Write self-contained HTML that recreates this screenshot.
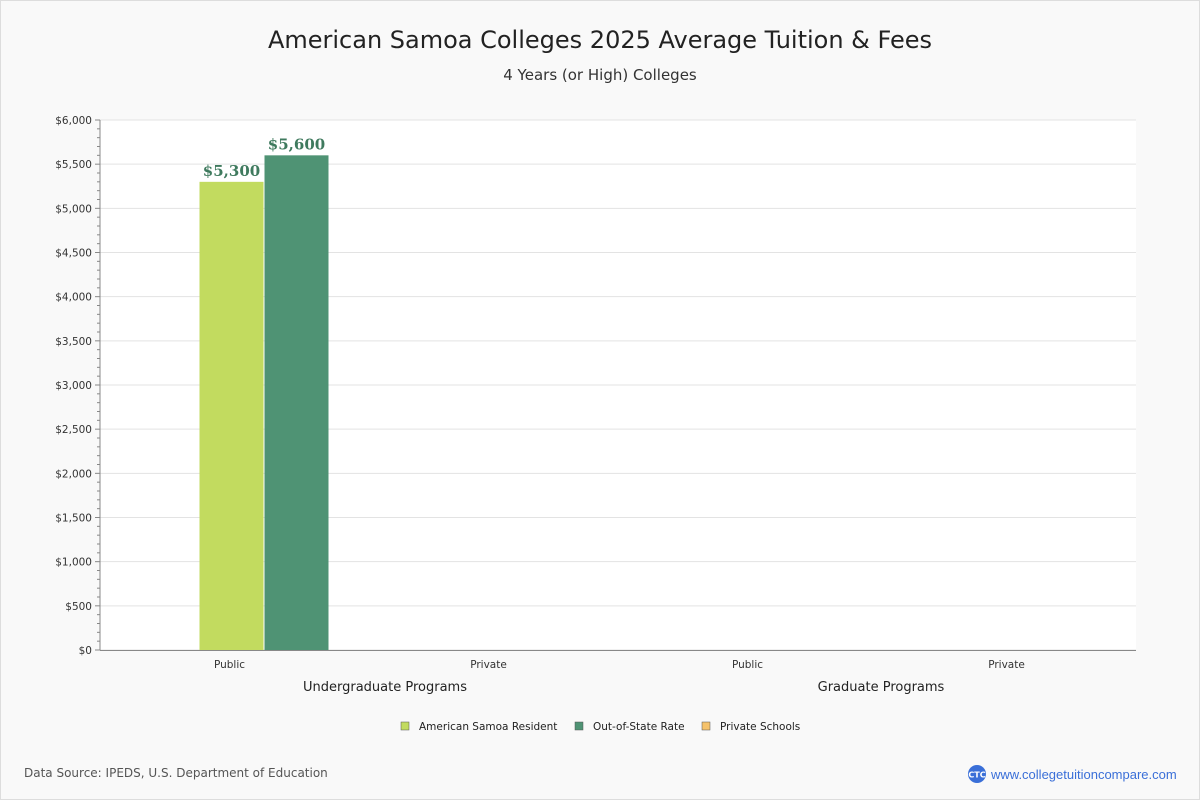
<!DOCTYPE html>
<html><head><meta charset="utf-8"><style>
body{margin:0;background:#fff;}
#wrap{position:relative;width:1198px;height:798px;border:1px solid #ddd;background:#f9f9f9;font-family:"DejaVu Sans","Liberation Sans",sans-serif;}
</style></head><body>
<div id="wrap">
<svg id="chart" width="1198" height="798" style="position:absolute;left:0;top:0">
<text x="599" y="47" text-anchor="middle" font-size="24" fill="#222">American Samoa Colleges 2025 Average Tuition &amp; Fees</text>
<text x="599" y="79" text-anchor="middle" font-size="15" fill="#333">4 Years (or High)  Colleges</text>
<rect x="99" y="119" width="1036" height="530" fill="#fff"/>
<g id="grid"></g><g id="bars"></g><g id="axis"></g>
<text x="384" y="690" text-anchor="middle" font-size="13" fill="#222">Undergraduate Programs</text>
<text x="880" y="690" text-anchor="middle" font-size="13" fill="#222">Graduate Programs</text>
<g font-size="10.5" fill="#222">
<g><rect x="400" y="721" width="8" height="8" fill="#c2db5f" stroke="#555" stroke-width="0.5"/><text x="418" y="729">American Samoa Resident</text></g>
<g><rect x="574" y="721" width="8" height="8" fill="#4f9374" stroke="#555" stroke-width="0.5"/><text x="592" y="729">Out-of-State Rate</text></g>
<g><rect x="701" y="721" width="8" height="8" fill="#f5c26b" stroke="#555" stroke-width="0.5"/><text x="719" y="729">Private Schools</text></g>
</g>
<text x="23" y="776" font-size="12" fill="#555">Data Source: IPEDS, U.S. Department of Education</text>
<g>
<circle cx="976" cy="773" r="9" fill="#3a6fd8"/><text x="976" y="776.5" text-anchor="middle" font-size="8" fill="#fff" font-weight="bold">CTC</text>
<text x="990" y="778" font-size="13" fill="#3a6fd8" font-family="Liberation Sans, sans-serif">www.collegetuitioncompare.com</text>
</g>
</svg>
</div>
<script>
const categories=["Public","Private","Public","Private"];
const residentValues=[5300,null,null,null];
const outOfStateValues=[5600,null,null,null];
const privateValues=[null,null,null,null];
const tickValues=[0,500,1000,1500,2000,2500,3000,3500,4000,4500,5000,5500,6000];
const NS="http://www.w3.org/2000/svg";
const X0=99,W=1036,Y0=649,H=530,MAX=6000;
const y=v=>Y0-v/MAX*H;
const bw=W/categories.length;
const xc=i=>X0+bw*(i+0.5);
function mk(t,a,p){const e=document.createElementNS(NS,t);for(const k in a)e.setAttribute(k,a[k]);p.appendChild(e);return e;}
const grid=document.getElementById('grid'),axis=document.getElementById('axis'),bars=document.getElementById('bars');
const fmt=v=>'$'+v.toLocaleString('en-US');
tickValues.forEach(v=>{
 const l=mk('line',{x1:X0,x2:X0+W,y1:y(v),y2:y(v),stroke:'#e3e3e3'},grid);
 
 
 const t=mk('text',{x:91,y:y(v)+4,'text-anchor':'end','font-size':10.5,fill:'#333'},axis);
 t.textContent=fmt(v);
 
 
});
for(let v=0;v<=MAX;v+=100){const tk=mk('line',{x1:v%500?96:94,x2:X0,y1:y(v),y2:y(v),stroke:'#888'},axis);
 
 }
const ax=mk('line',{x1:X0,x2:X0,y1:Y0-H,y2:Y0,stroke:'#888'},axis);


const xa=mk('line',{x1:X0,x2:X0+W,y1:Y0+0.5,y2:Y0+0.5,stroke:'#888'},axis);


categories.forEach((c,i)=>{
 const t=mk('text',{x:xc(i),y:667,'text-anchor':'middle','font-size':10.5,fill:'#333'},axis);
 t.textContent=c;
 
 
});
const series=[[residentValues,'#c2db5f','bar-resident'],[outOfStateValues,'#4f9374','bar-out-of-state'],[privateValues,'#f5c26b','bar-private']];
categories.forEach((c,i)=>{
 const present=series.filter(s=>s[0][i]!=null);
 const w=64;
 present.forEach((s,j)=>{
  const v=s[0][i];const x=xc(i)-30+j*(w+1);
  const r=mk('rect',{x:x,y:y(v),width:w,height:Y0-y(v),fill:s[1]},bars);
  
  
  const t=mk('text',{x:x+w/2,y:y(v)-6,'text-anchor':'middle','font-size':15,'font-weight':'bold',fill:'#3f7a5e','font-family':'DejaVu Serif, Liberation Serif, serif'},bars);
  t.textContent=fmt(v);
  
  
 });
});
</script>
</body></html>
